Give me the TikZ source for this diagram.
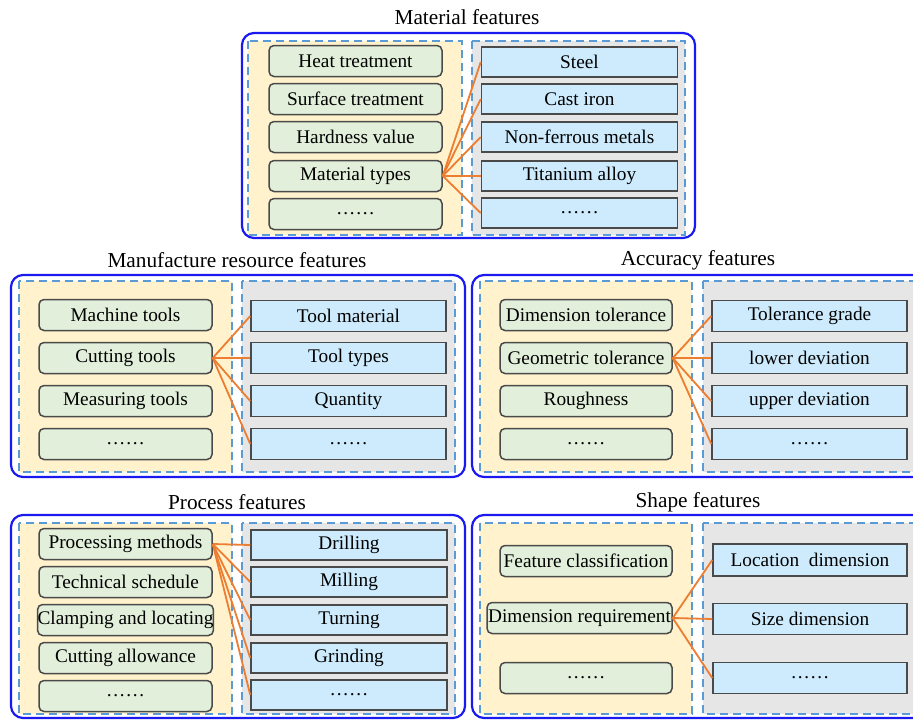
\documentclass[tikz,border=0pt]{standalone}
\usepackage{fontspec}
\setmainfont{Liberation Serif}
\definecolor{gfill}{HTML}{E2EFDA}
\definecolor{bfill}{HTML}{CDEBFC}
\definecolor{yfill}{HTML}{FFF2CC}
\definecolor{grfill}{HTML}{E6E6E6}
\definecolor{dashc}{HTML}{5B9BD5}
\definecolor{outc}{HTML}{1A1AF0}
\definecolor{orc}{HTML}{ED7D31}
\definecolor{boxc}{HTML}{4A4A4A}
\begin{document}
\begin{tikzpicture}[x=1pt,y=-1pt,
  outerbox/.style={draw=outc,line width=2.2pt,rounded corners=12pt},
  leftreg/.style={draw=dashc,fill=yfill,line width=2pt,dash pattern=on 8pt off 5pt},
  rightreg/.style={draw=dashc,fill=grfill,line width=2pt,dash pattern=on 8pt off 5pt},
  gbox/.style={draw=boxc,fill=gfill,line width=1.5pt,rounded corners=5pt,inner sep=0pt,
    minimum width=173pt,minimum height=31pt,font=\fontsize{19.3}{22}\selectfont},
  bbox/.style={draw=boxc,fill=bfill,line width=1.5pt,inner sep=0pt,
    minimum width=196pt,minimum height=30pt,font=\fontsize{19.3}{22}\selectfont},
  ttl/.style={font=\fontsize{21.3}{24}\selectfont,inner sep=0pt},
  link/.style={draw=orc,line width=1.8pt}]
\useasboundingbox (0,0) rectangle (913,720);
\fill[white] (0,0) rectangle (913,720);

% ---------- Material features ----------
\node[ttl] (t1) at (467,17) {Material features};
\draw[outerbox] (242,33) rectangle (695,238);
\draw[leftreg] (248,41) rectangle (462,235);
\draw[rightreg] (472,41) rectangle (685,235);
\node[gbox] (a1) at (355.5,61) {Heat treatment};
\node[gbox] (a2) at (355.5,99) {Surface treatment};
\node[gbox] (a3) at (355.5,137) {Hardness value};
\node[gbox] (a4) at (355.5,176) {Material types};
\node[gbox] (a5) at (355.5,214) {……};
\node[bbox] (b1) at (579.5,62) {Steel};
\node[bbox] (b2) at (579.5,99) {Cast iron};
\node[bbox] (b3) at (579.5,137) {Non-ferrous metals};
\node[bbox] (b4) at (579.5,176) {Titanium alloy};
\node[bbox] (b5) at (579.5,213) {……};
\foreach \i in {1,...,5} \draw[link] (a4.east) -- (b\i.west);

% ---------- Manufacture resource features ----------
\node[ttl] (t2) at (237,260) {Manufacture resource features};
\draw[outerbox] (11,275) rectangle (465,477);
\draw[leftreg] (19,281) rectangle (232,472);
\draw[rightreg] (242,281) rectangle (455,472);
\node[gbox] (c1) at (125.5,315) {Machine tools};
\node[gbox] (c2) at (125.5,358) {Cutting tools};
\node[gbox] (c3) at (125.5,401) {Measuring tools};
\node[gbox] (c4) at (125.5,444) {……};
\node[bbox,minimum width=195pt,minimum height=31pt] (d1) at (348.5,316) {Tool material};
\node[bbox,minimum width=195pt,minimum height=31pt] (d2) at (348.5,358) {Tool types};
\node[bbox,minimum width=195pt,minimum height=31pt] (d3) at (348.5,401) {Quantity};
\node[bbox,minimum width=195pt,minimum height=31pt] (d4) at (348.5,444) {……};
\foreach \i in {1,...,4} \draw[link] (c2.east) -- (d\i.west);

% ---------- Accuracy features ----------
\node[ttl] (t3) at (698,260) {Accuracy features};
\draw[outerbox] (472,275) rectangle (930,477);
\draw[leftreg] (480,281) rectangle (692,472);
\draw[rightreg] (703,281) rectangle (918,472);
\node[gbox,minimum width=172pt] (e1) at (586,315) {Dimension tolerance};
\node[gbox,minimum width=172pt] (e2) at (586,358) {Geometric tolerance};
\node[gbox,minimum width=172pt] (e3) at (586,401) {Roughness};
\node[gbox,minimum width=172pt] (e4) at (586,444) {……};
\node[bbox,minimum width=195pt,minimum height=31pt] (f1) at (809.5,316) {Tolerance grade};
\node[bbox,minimum width=195pt,minimum height=31pt] (f2) at (809.5,358) {lower deviation};
\node[bbox,minimum width=195pt,minimum height=31pt] (f3) at (809.5,401) {upper deviation};
\node[bbox,minimum width=195pt,minimum height=31pt] (f4) at (809.5,444) {……};
\foreach \i in {1,...,4} \draw[link] (e2.east) -- (f\i.west);

% ---------- Process features ----------
\node[ttl] (t4) at (237,502) {Process features};
\draw[outerbox] (11,515) rectangle (465,718);
\draw[leftreg] (19,523) rectangle (232,714);
\draw[rightreg] (242,523) rectangle (455,714);
\node[gbox] (g1) at (125.5,544) {Processing methods};
\node[gbox] (g2) at (125.5,582) {Technical schedule};
\node[gbox] (g3) at (125.5,620) {Clamping and locating};
\node[gbox] (g4) at (125.5,658) {Cutting allowance};
\node[gbox] (g5) at (125.5,696) {……};
\node[bbox] (h1) at (349,545) {Drilling};
\node[bbox] (h2) at (349,582) {Milling};
\node[bbox] (h3) at (349,620) {Turning};
\node[bbox] (h4) at (349,658) {Grinding};
\node[bbox] (h5) at (349,695) {……};
\foreach \i in {1,...,5} \draw[link] (g1.east) -- (h\i.west);

% ---------- Shape features ----------
\node[ttl] (t5) at (698,502) {Shape features};
\draw[outerbox] (472,515) rectangle (930,718);
\draw[leftreg] (480,523) rectangle (692,714);
\draw[rightreg] (703,523) rectangle (918,714);
\node[gbox,minimum width=172pt] (p1) at (586,561) {Feature classification};
\node[gbox,minimum width=185pt] (p2) at (579.5,618) {Dimension requirement};
\node[gbox,minimum width=172pt] (p3) at (586,678) {……};
\node[bbox,minimum width=194pt,minimum height=32pt] (q1) at (810,560) {Location\ \ dimension};
\node[bbox,minimum width=194pt,minimum height=31pt] (q2) at (810,619) {Size dimension};
\node[bbox,minimum width=194pt,minimum height=31pt] (q3) at (810,678) {……};
\foreach \i in {1,...,3} \draw[link] (p2.east) -- (q\i.west);
\end{tikzpicture}
\end{document}
